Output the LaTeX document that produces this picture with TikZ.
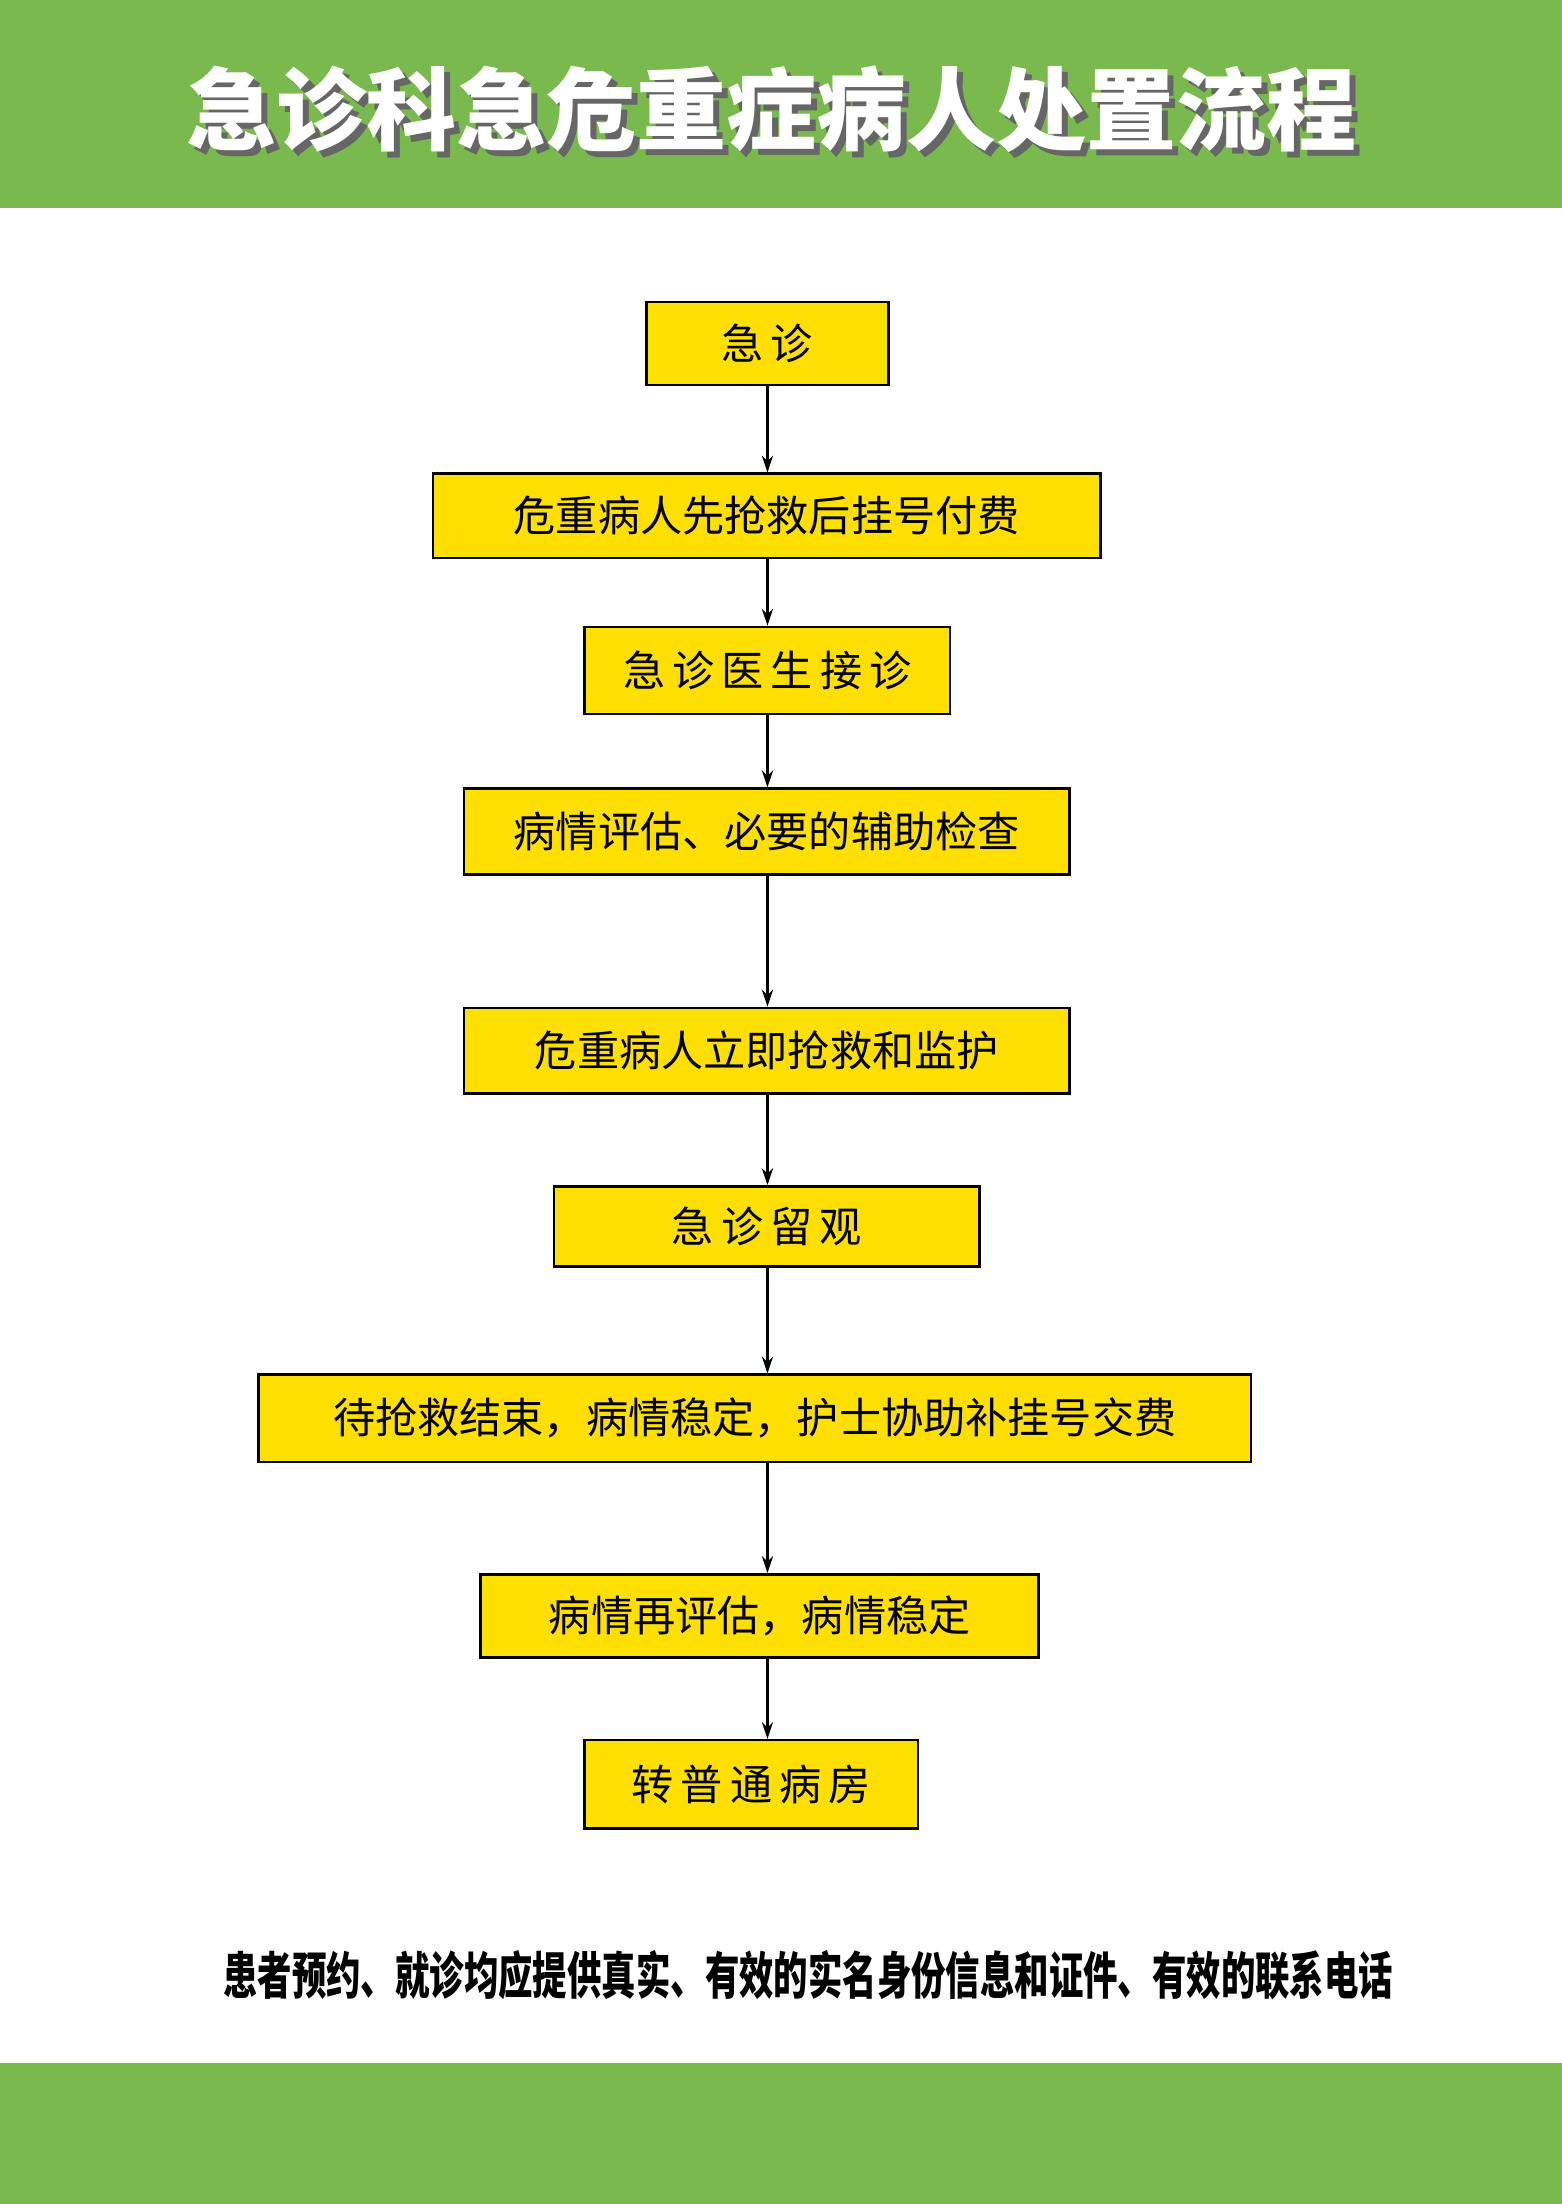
\documentclass[tikz,border=0pt]{standalone}
\usepackage{fontspec}
\newfontfamily\cjk{Noto Sans CJK SC}
\usetikzlibrary{arrows.meta}
\definecolor{band}{HTML}{7AB94E}
\definecolor{boxy}{HTML}{FFDF00}
\tikzset{
  fbox/.style={draw=black,line width=1.8pt,fill=boxy,font=\cjk\fontsize{30}{30}\selectfont},
  arr/.style={-{Stealth[length=12pt,width=8pt]},line width=1.6pt}
}
\newcommand{\bx}[6]{\node[fbox,minimum width=#4-#2,minimum height=#5-#3,inner sep=0pt] (#1) at ({(#2+#4)/2},{(#3+#5)/2}) {#6};}
\begin{document}
\begin{tikzpicture}[x=1pt,y=-1pt]
\useasboundingbox (0,0) rectangle (1111,1568);
\fill[white] (0,0) rectangle (1111,1568);
\fill[band] (0,0) rectangle (1111,148);
\fill[band] (0,1468) rectangle (1111,1568);
\node[text=black!60,font=\cjk\bfseries\fontsize{64}{64}\selectfont] (tshadow) at (553,82) {急诊科急危重症病人处置流程};
\node[text=white,font=\cjk\bfseries\fontsize{64}{64}\selectfont] (title) at (549,78) {急诊科急危重症病人处置流程};
\bx{b1}{460}{215}{632}{274}{急\,诊}
\bx{b2}{308}{337}{783}{397}{危重病人先抢救后挂号付费}
\bx{b3}{416}{446}{676}{508}{急\,诊\,医\,生\,接\,诊}
\bx{b4}{330}{561}{761}{622}{病情评估、必要的辅助检查}
\bx{b5}{330}{717}{761}{778}{危重病人立即抢救和监护}
\bx{b6}{394}{844}{697}{901}{急\,诊\,留\,观}
\bx{b7}{184}{978}{890}{1040}{待抢救结束，病情稳定，护士协助补挂号交费}
\bx{b8}{342}{1120}{739}{1179}{病情再评估，病情稳定}
\bx{b9}{416}{1238}{653}{1301}{转\,普\,通\,病\,房}
\foreach \a/\b in {b1/b2,b2/b3,b3/b4,b4/b5,b5/b6,b6/b7,b7/b8,b8/b9}
  \draw[arr] (\a.south -| 546,0) -- (\b.north -| 546,0);
\node[font=\cjk\bfseries\fontsize{36}{36}\selectfont,xscale=0.68] (foot) at (575,1405) {患者预约、就诊均应提供真实、有效的实名身份信息和证件、有效的联系电话};
\end{tikzpicture}
\end{document}
